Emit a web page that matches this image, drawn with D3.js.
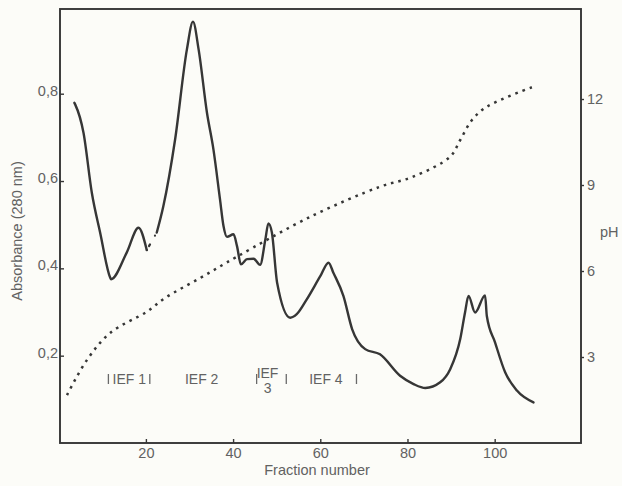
<!DOCTYPE html>
<html>
<head>
<meta charset="utf-8">
<script src="https://cdn.jsdelivr.net/npm/d3@7"></script>
<style>
  body { margin: 0; background: #fcfcf8; }
  svg text { font-family: "Liberation Sans", Arial, Helvetica, sans-serif; fill: #626262; }
</style>
</head>
<body>
<svg id="chart" width="622" height="486"></svg>
<script>
// Absorbance profile (280 nm) across the fractions
const fraction = [3.6, 3.8, 5.7, 7.6, 9.5, 11.8, 12.0, 15.6, 18.3, 20.2,
  22.5, 24.0, 26.7, 29.4, 30.8, 32.1, 34.0, 35.5, 37.0, 37.8,
  38.6, 40.1, 40.9, 41.8, 43.2, 44.7, 46.2, 47.4, 48.1, 48.9,
  50.1, 53.1, 54.6, 56.9, 60.0, 61.9, 63.0, 65.3, 67.3, 70.3,
  73.7, 78.3, 81.4, 84.1, 87.5, 89.8, 92.1, 93.2, 94.0, 95.5,
  97.8, 98.2, 100.1, 102.4, 105.1, 108.9];
const absorbance = [0.779, 0.775, 0.710, 0.573, 0.482, 0.379, 0.375, 0.436, 0.493, 0.442,
  0.482, 0.542, 0.695, 0.901, 0.965, 0.901, 0.757, 0.672, 0.558, 0.497,
  0.472, 0.478, 0.451, 0.409, 0.421, 0.422, 0.408, 0.466, 0.503, 0.482,
  0.367, 0.287, 0.295, 0.329, 0.382, 0.413, 0.390, 0.337, 0.261, 0.215,
  0.203, 0.154, 0.135, 0.126, 0.139, 0.169, 0.238, 0.299, 0.337, 0.299,
  0.338, 0.291, 0.230, 0.162, 0.120, 0.093];
// the recorder trace is interrupted between these two fractions
const traceBreakFrom = 20.2;
const traceBreakTo = 22.5;

// pH gradient
const phFraction = [1.9, 6.5, 11.8, 20.2, 24.4, 32.5, 40.9, 57.7, 73.7, 81.3,
  89.8, 92.1, 94.8, 98.2, 108.9];
const phValue = [1.67, 2.90, 3.84, 4.58, 5.06, 5.76, 6.50, 7.89, 8.94, 9.29,
  9.99, 10.57, 11.27, 11.73, 12.43];

// axis ticks
const fractionTicks = [20, 40, 60, 80, 100];
const absorbanceTicks = [0.2, 0.4, 0.6, 0.8];
const phTicks = [3, 6, 9, 12];

// pooled IEF fractions
const poolNames = ["IEF 1", "IEF 2", "IEF", "IEF 4"];
const poolSub = ["", "", "3", ""];
const poolCenter = [16.2, 32.8, 47.9, 61.3];
const poolStart = [11.4, null, 45.4, null];
const poolEnd = [20.9, null, 52.2, 68.3];

const svg = d3.select("#chart");
const ink = "#363636";

const x = d3.scaleLinear().domain([0.3, 119.8]).range([60, 581]);
const yAbs = d3.scaleLinear().domain([0, 0.994]).range([443, 9]);
const yPh = d3.scaleLinear().domain([0, 15.14]).range([443, 9]);

// frame
svg.append("rect")
  .attr("x", x.range()[0]).attr("y", yAbs.range()[1])
  .attr("width", x.range()[1] - x.range()[0])
  .attr("height", yAbs.range()[0] - yAbs.range()[1])
  .attr("fill", "none").attr("stroke", ink).attr("stroke-width", 1.9);

// axes
const fmtComma = d => d3.format(".1f")(d).replace(".", ",");
const tickFont = "14.5px";

const gLeft = svg.append("g").attr("transform", `translate(${x.range()[0]},0)`)
  .call(d3.axisLeft(yAbs).tickValues(absorbanceTicks).tickSize(-4).tickPadding(2).tickFormat(fmtComma));
gLeft.selectAll("text").attr("dy", "0.1em").style("font-size", tickFont);

const gRight = svg.append("g").attr("transform", `translate(${x.range()[1]},0)`)
  .call(d3.axisRight(yPh).tickValues(phTicks).tickSize(3).tickPadding(3).tickFormat(d3.format("d")));
gRight.selectAll("text").style("font-size", tickFont);

const gBottom = svg.append("g").attr("transform", `translate(0,${yAbs.range()[0]})`)
  .call(d3.axisBottom(x).tickValues(fractionTicks).tickSize(-4).tickPadding(5).tickFormat(d3.format("d")));
gBottom.selectAll("text").style("font-size", tickFont);

[gLeft, gRight, gBottom].forEach(g => {
  g.select(".domain").remove();
  g.selectAll(".tick line").attr("stroke", ink).attr("stroke-width", 1.4);
});

// axis titles
svg.append("text")
  .attr("transform", `translate(22,${(yAbs.range()[0] + yAbs.range()[1]) / 2 + 5}) rotate(-90)`)
  .attr("text-anchor", "middle").style("font-size", "14.5px")
  .text("Absorbance (280 nm)");
svg.append("text")
  .attr("x", 317).attr("y", 475).attr("text-anchor", "middle").style("font-size", "14.5px")
  .text("Fraction number");
svg.append("text")
  .attr("x", 600).attr("y", 237).style("font-size", "14.5px")
  .text("pH");

// pH gradient (dotted)
const phLine = d3.line()
  .x((d, i) => x(phFraction[i]))
  .y((d, i) => yPh(phValue[i]))
  .curve(d3.curveCatmullRom.alpha(0.5));
svg.append("path")
  .attr("d", phLine(phFraction))
  .attr("fill", "none").attr("stroke", ink).attr("stroke-width", 2.5)
  .attr("stroke-dasharray", "2.6,5");

// absorbance trace, solid except the short interruption
const absLine = d3.line()
  .x(i => x(fraction[i]))
  .y(i => yAbs(absorbance[i]))
  .curve(d3.curveMonotoneX);
const idx = d3.range(fraction.length);
const partA = idx.filter(i => fraction[i] <= traceBreakFrom);
const partB = idx.filter(i => fraction[i] >= traceBreakTo);
[partA, partB].forEach(part => {
  svg.append("path")
    .attr("d", absLine(part))
    .attr("fill", "none").attr("stroke", ink).attr("stroke-width", 2.4)
    .attr("stroke-linejoin", "round").attr("stroke-linecap", "round");
});
const iFrom = fraction.indexOf(traceBreakFrom), iTo = fraction.indexOf(traceBreakTo);
svg.append("path")
  .attr("d", d3.line()([[x(fraction[iFrom]), yAbs(absorbance[iFrom])], [x(fraction[iTo]), yAbs(absorbance[iTo])]]))
  .attr("stroke", ink).attr("stroke-width", 2.2).attr("stroke-dasharray", "0,4.5,2,10")
  .attr("stroke-linecap", "round");

// pooled fraction labels with range markers
const labelY = 384;
poolNames.forEach((name, i) => {
  const sub = poolSub[i];
  svg.append("text")
    .attr("x", x(poolCenter[i])).attr("y", sub ? labelY - 6 : labelY)
    .attr("text-anchor", "middle").style("font-size", "14px")
    .text(name);
  if (sub) {
    svg.append("text")
      .attr("x", x(poolCenter[i])).attr("y", labelY + 9)
      .attr("text-anchor", "middle").style("font-size", "14px")
      .text(sub);
  }
  [poolStart[i], poolEnd[i]].forEach(f => {
    if (f === null) return;
    svg.append("line")
      .attr("x1", x(f)).attr("x2", x(f))
      .attr("y1", labelY - 10).attr("y2", labelY)
      .attr("stroke", "#6a6a6a").attr("stroke-width", 1.3);
  });
});
</script>
</body>
</html>
